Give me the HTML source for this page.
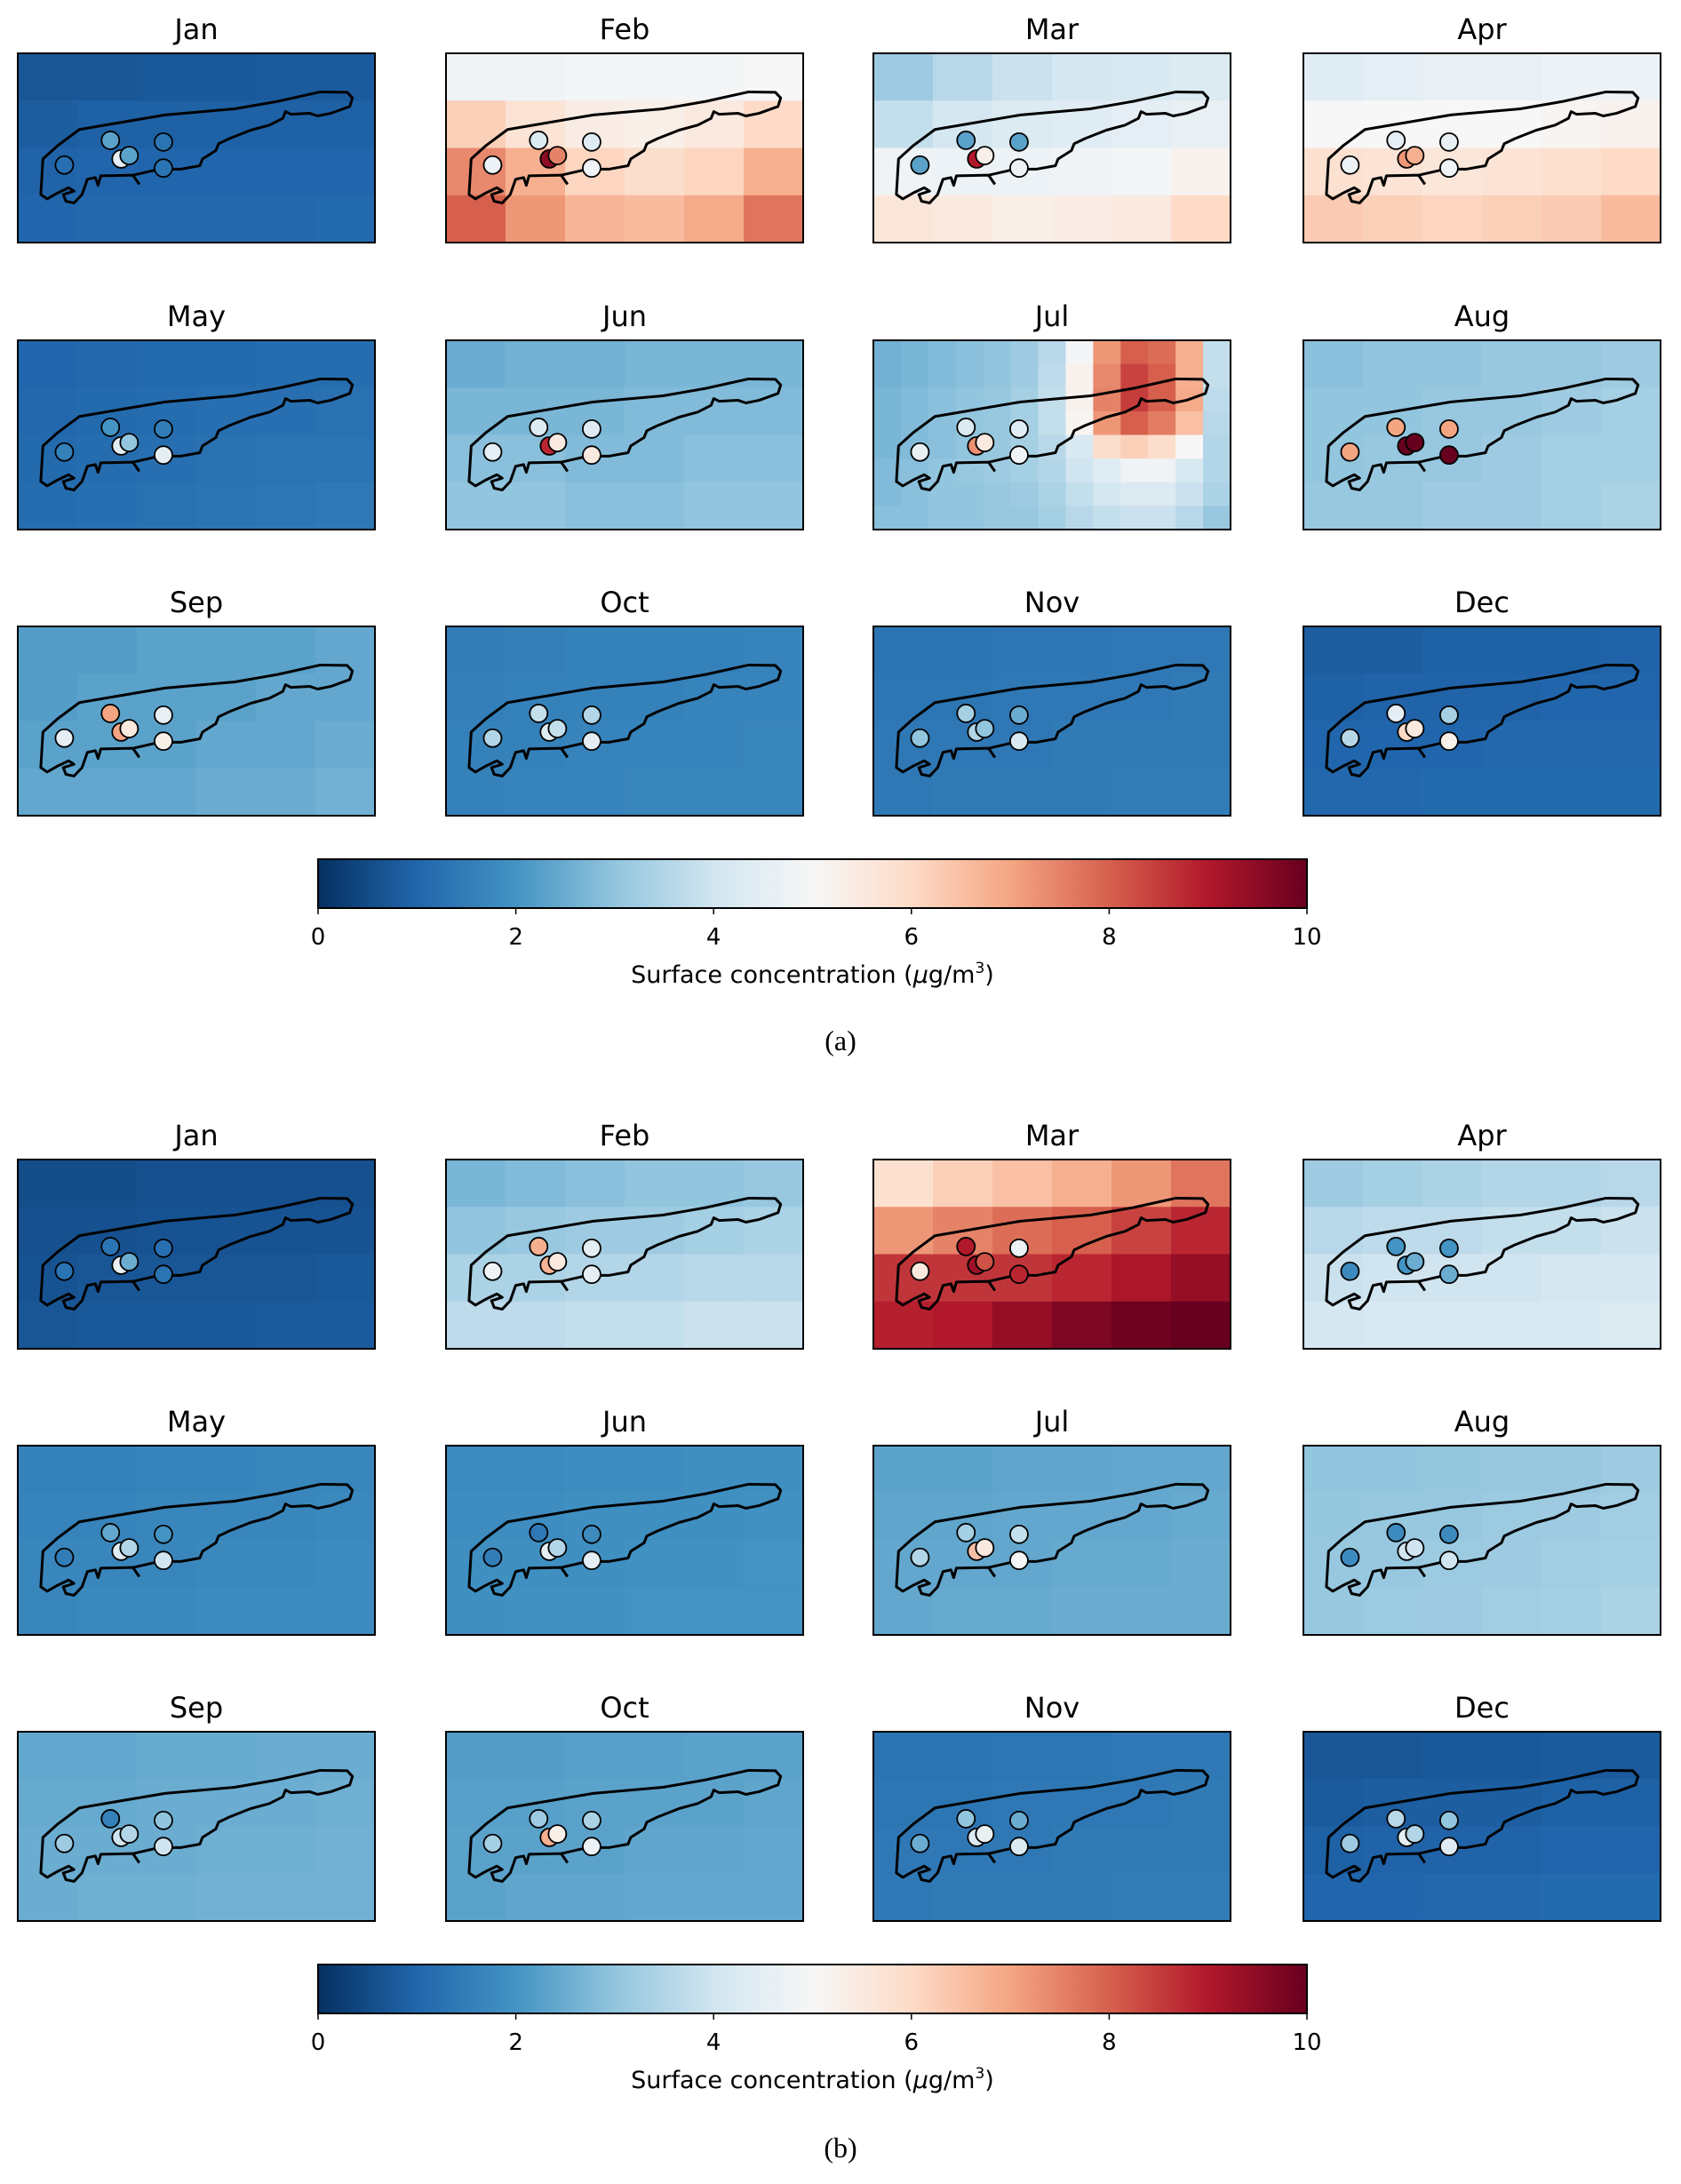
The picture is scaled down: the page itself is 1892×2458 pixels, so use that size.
<!DOCTYPE html>
<html><head><meta charset="utf-8">
<style>
html,body{margin:0;padding:0;background:#fff;}
svg text{font-family:"DejaVu Sans","Liberation Sans",sans-serif;fill:#000;}
</style></head>
<body>
<svg id="fig" xmlns="http://www.w3.org/2000/svg" width="1892" height="2453" viewBox="0 0 1892 2453"></svg>
<script>
const months = ["Jan","Feb","Mar","Apr","May","Jun","Jul","Aug","Sep","Oct","Nov","Dec"];
const colorbarTicks = [0,2,4,6,8,10];
const colorbarLabel = "Surface concentration (";
// background grids (rows top->bottom), µg/m3
const gridA = [
 [[0.7,0.7,0.75,0.75,0.8,0.8],[0.85,0.9,0.9,0.9,0.9,0.9],[0.95,1,1,1,1,1],[1,1.05,1.05,1.05,1.05,1.1]],
 [[4.8,4.8,4.9,4.9,4.9,5.0],[6.2,5.7,5.4,5.3,5.5,6.0],[7.4,6.8,6.1,5.9,6.1,6.8],[8.0,7.2,6.7,6.6,6.9,7.7]],
 [[3.2,3.6,3.9,4.1,4.2,4.3],[3.8,4.1,4.3,4.4,4.5,4.6],[4.8,4.7,4.7,4.8,4.9,5.2],[5.6,5.5,5.3,5.4,5.5,6.0]],
 [[4.4,4.5,4.6,4.6,4.7,4.7],[5.0,5.0,5.0,5.0,5.1,5.2],[5.8,5.7,5.6,5.7,5.8,6.0],[6.3,6.2,6.1,6.2,6.3,6.6]],
 [[1.0,1.05,1.1,1.1,1.15,1.15],[1.05,1.1,1.15,1.2,1.2,1.25],[1.1,1.15,1.2,1.25,1.3,1.3],[1.15,1.2,1.25,1.3,1.35,1.4]],
 [[2.5,2.6,2.6,2.7,2.7,2.7],[2.7,2.7,2.7,2.8,2.8,2.8],[2.9,2.9,2.8,2.8,2.9,2.9],[3.0,3.0,2.9,2.9,3.0,3.0]],
 [[2.6,2.7,2.8,2.9,3.0,3.2,3.6,4.9,7.2,8.0,7.8,6.8,3.8],
  [2.6,2.7,2.8,2.9,3.0,3.2,3.7,5.2,7.4,8.4,8.0,6.8,3.8],
  [2.7,2.8,2.9,3.0,3.1,3.3,3.8,5.2,7.5,8.5,8.0,6.9,3.7],
  [2.7,2.8,2.9,3.0,3.1,3.3,3.8,5.1,7.2,8.0,7.6,6.5,3.6],
  [2.7,2.8,2.9,3.0,3.1,3.3,3.6,4.2,5.9,6.2,5.9,5.0,3.5],
  [2.8,2.9,3.0,3.1,3.2,3.3,3.5,4.0,4.4,4.8,4.8,4.2,3.5],
  [2.8,2.9,3.0,3.0,3.1,3.2,3.4,3.8,4.1,4.3,4.3,3.9,3.4],
  [2.9,2.9,3.0,3.0,3.1,3.1,3.3,3.6,3.8,3.9,3.9,3.6,3.1]],
 [[2.9,3.0,3.0,3.1,3.1,3.2],[3.0,3.0,3.1,3.1,3.2,3.3],[3.0,3.1,3.1,3.2,3.3,3.3],[3.1,3.1,3.2,3.2,3.3,3.4]],
 [[2.2,2.2,2.3,2.3,2.3,2.4],[2.2,2.3,2.3,2.3,2.4,2.4],[2.3,2.3,2.3,2.4,2.4,2.5],[2.4,2.4,2.4,2.5,2.5,2.6]],
 [[1.5,1.55,1.6,1.6,1.6,1.65],[1.55,1.6,1.6,1.6,1.65,1.65],[1.6,1.6,1.65,1.65,1.65,1.7],[1.6,1.65,1.65,1.7,1.7,1.7]],
 [[1.3,1.3,1.35,1.35,1.4,1.4],[1.35,1.35,1.4,1.4,1.4,1.45],[1.4,1.4,1.4,1.45,1.45,1.45],[1.4,1.45,1.45,1.45,1.5,1.5]],
 [[0.85,0.85,0.9,0.9,0.9,0.95],[0.9,0.95,0.95,0.95,1.0,1.0],[1.0,1.0,1.0,1.05,1.05,1.05],[1.05,1.05,1.1,1.1,1.1,1.1]]
];
const gridB = [
 [[0.55,0.55,0.6,0.6,0.6,0.6],[0.6,0.6,0.65,0.65,0.65,0.65],[0.65,0.7,0.7,0.7,0.7,0.75],[0.7,0.75,0.75,0.75,0.8,0.8]],
 [[2.7,2.8,2.9,3.0,3.0,3.1],[3.0,3.1,3.2,3.2,3.3,3.4],[3.4,3.4,3.5,3.5,3.6,3.6],[3.7,3.7,3.8,3.8,3.9,3.9]],
 [[5.8,6.2,6.5,6.8,7.2,7.7],[7.2,7.5,7.8,8.0,8.4,8.8],[8.6,8.6,8.6,8.8,9.1,9.4],[8.9,9.0,9.4,9.7,9.9,10]],
 [[3.2,3.3,3.4,3.5,3.5,3.6],[3.6,3.7,3.7,3.8,3.8,3.9],[3.9,4.0,4.0,4.0,4.1,4.1],[4.1,4.2,4.2,4.2,4.2,4.3]],
 [[1.6,1.6,1.65,1.65,1.7,1.7],[1.65,1.65,1.7,1.7,1.7,1.75],[1.7,1.7,1.7,1.75,1.75,1.8],[1.7,1.75,1.75,1.8,1.8,1.8]],
 [[1.8,1.8,1.85,1.85,1.9,1.9],[1.85,1.85,1.9,1.9,1.9,1.95],[1.9,1.9,1.9,1.95,1.95,2.0],[1.9,1.95,1.95,2.0,2.0,2.0]],
 [[2.3,2.3,2.35,2.35,2.4,2.4],[2.35,2.35,2.4,2.4,2.4,2.45],[2.4,2.4,2.4,2.45,2.45,2.5],[2.4,2.45,2.45,2.5,2.5,2.5]],
 [[3.0,3.0,3.05,3.1,3.1,3.2],[3.05,3.1,3.1,3.15,3.2,3.25],[3.1,3.1,3.15,3.2,3.25,3.3],[3.1,3.15,3.2,3.25,3.3,3.4]],
 [[2.4,2.4,2.45,2.45,2.5,2.5],[2.45,2.45,2.5,2.5,2.5,2.55],[2.5,2.5,2.5,2.55,2.55,2.6],[2.5,2.55,2.55,2.6,2.6,2.6]],
 [[2.2,2.2,2.25,2.25,2.3,2.3],[2.25,2.25,2.3,2.3,2.3,2.35],[2.3,2.3,2.3,2.35,2.35,2.4],[2.3,2.35,2.35,2.4,2.4,2.4]],
 [[1.3,1.3,1.35,1.35,1.4,1.4],[1.35,1.35,1.4,1.4,1.4,1.45],[1.4,1.4,1.4,1.45,1.45,1.45],[1.4,1.45,1.45,1.45,1.5,1.5]],
 [[0.7,0.7,0.75,0.75,0.8,0.8],[0.8,0.85,0.85,0.85,0.9,0.9],[0.9,0.95,0.95,0.95,1.0,1.0],[1.0,1.0,1.05,1.05,1.1,1.1]]
];
// station values: [upper-left, upper-right, pair-left, pair-right, far-left, lower-right]
const sitesA = [
 [2.3,1.3,4.5,2.3,1.2,1.3],[4.3,4.4,9.5,7.5,4.7,4.8],[2.3,2.3,9.0,5.3,2.3,4.7],[4.5,4.6,7.2,6.8,4.7,4.8],
 [2.0,1.5,4.5,3.0,1.6,4.5],[4.3,4.4,8.8,5.5,4.5,5.5],[4.3,4.4,7.3,5.5,4.6,4.8],[7.0,7.0,10,10,7.0,10],
 [7.0,4.6,7.0,5.5,4.5,5.3],[3.8,3.5,4.4,3.8,3.5,4.5],[3.3,2.5,3.5,3.0,3.0,4.2],[4.5,3.3,6.0,5.5,3.6,5.3]
];
const sitesB = [
 [1.3,1.2,4.6,2.5,1.3,1.3],[6.8,4.5,6.7,5.5,4.8,4.5],[9.0,4.7,9.3,8.2,5.5,8.8],[2.0,2.0,2.0,2.5,1.8,2.5],
 [2.4,2.0,4.4,3.5,1.5,4.0],[1.4,1.8,4.5,3.5,1.5,4.5],[3.3,3.8,6.5,5.5,3.5,4.9],[1.8,1.8,4.0,4.0,1.8,4.0],
 [1.6,3.0,4.0,3.5,3.2,4.0],[3.2,3.4,6.8,5.3,3.3,4.7],[3.0,2.5,4.3,4.6,2.5,4.3],[3.6,3.0,4.5,3.5,3.2,4.4]
];

const NS="http://www.w3.org/2000/svg";
const svg=document.getElementById('fig');
const cmap=["#053061","#2166ac","#4393c3","#92c5de","#d1e5f0","#f7f7f7","#fddbc7","#f4a582","#d6604d","#b2182b","#67001f"];
function hex(h){return [1,3,5].map(i=>parseInt(h.substr(i,2),16));}
function color(v){
  let t=Math.max(0,Math.min(1,v/10))*10;let i=Math.min(9,Math.floor(t));let f=t-i;
  const a=hex(cmap[i]),b=hex(cmap[i+1]);
  return "rgb("+a.map((x,k)=>Math.round(x+(b[k]-x)*f)).join(",")+")";
}
function mk(tag,attrs,parent){const e=document.createElementNS(NS,tag);for(const k in attrs)e.setAttribute(k,attrs[k]);(parent||svg).appendChild(e);return e;}

const colX=[20,502,983,1467], PW=402, PH=213;
const rowYA=[60,383,705], rowYB=[1305,1627,1949];
const outline="M150,383 L310,340 L440,322 L520,300 L600,272 L650,273 L660,290 L655,315 L620,335 L595,343 L580,335 L545,338 L535,330 L530,350 L505,370 L470,385 L430,410 L410,425 L405,445 L380,470 L375,490 L340,500 L300,500 L250,518 L190,520 L185,548 L180,525 L165,530 L155,575 L140,600 L125,595 L120,575 L140,565 L130,555 L110,570 L90,588 L78,575 L82,470 L110,430 Z M250,518 L262,545";
const sitePos=[[208,415],[307,420],[228,470],[243,460],[122,488],[307,497]];
const drawOrder=[0,1,4,5,2,3];

function panel(px,py,title,grid,sites,tag){
  const g=mk('g',{});
  
  
  const t=mk('text',{x:px+PW/2,y:py-16,'text-anchor':'middle','font-size':32},g);
  t.textContent=title;
  
  
  const nr=grid.length,nc=grid[0].length;
  for(let r=0;r<nr;r++)for(let c=0;c<nc;c++){
    const x0=px+PW*c/nc,x1=px+PW*(c+1)/nc,y0=py+PH*r/nr,y1=py+PH*(r+1)/nr;
    const cell=mk('rect',{x:x0,y:y0,width:x1-x0+0.6,height:y1-y0+0.6,fill:color(grid[r][c])},g);
    
    
  }
  const inner=mk('svg',{x:px,y:py,width:PW,height:PH,viewBox:"35 158 667 559",preserveAspectRatio:"none"},g);
  const p=mk('path',{d:outline,fill:'none',stroke:'#000','stroke-width':3,'vector-effect':'non-scaling-stroke','stroke-linejoin':'round'},inner);
  
  
  for(const i of drawOrder){
    const e=mk('ellipse',{cx:sitePos[i][0],cy:sitePos[i][1],rx:16.6,ry:26.2,fill:color(sites[i]),stroke:'#000','stroke-width':1.8,'vector-effect':'non-scaling-stroke'},inner);
    
    
  }
  const b=mk('rect',{x:px,y:py,width:PW,height:PH,fill:'none',stroke:'#000','stroke-width':2},g);
  
  
}

function colorbar(y,labelY,tickY,capY,cap,tag){
  const x0=358,x1=1471,h=55;
  const defs=mk('defs',{});
  const lg=mk('linearGradient',{id:'grad'+tag,x1:0,y1:0,x2:1,y2:0},defs);
  cmap.forEach((c,i)=>mk('stop',{offset:i/10,'stop-color':c},lg));
  const r=mk('rect',{x:x0,y:y,width:x1-x0,height:h,fill:'url(#grad'+tag+')',stroke:'#000','stroke-width':2});
  
  
  colorbarTicks.forEach(v=>{
    const x=x0+(x1-x0)*v/10;
    mk('line',{x1:x,x2:x,y1:y+h,y2:y+h+7,stroke:'#000','stroke-width':1.5});
    const t=mk('text',{x:x,y:tickY,'text-anchor':'middle','font-size':26});
    t.textContent=String(v);
    
    
  });
  const l=mk('text',{x:(x0+x1)/2,y:labelY,'text-anchor':'middle','font-size':27});
  l.innerHTML=colorbarLabel+'<tspan font-style="italic">μ</tspan>g/m<tspan font-size="17" dy="-11">3</tspan><tspan dy="11">)</tspan>';
  
  
  const c=mk('text',{x:946,y:capY,'text-anchor':'middle','font-size':32,style:'font-family:"Liberation Serif",serif'});
  c.textContent=cap;
  
  
}

months.forEach((m,i)=>{
  const c=i%4,r=Math.floor(i/4);
  panel(colX[c],rowYA[r],m,gridA[i],sitesA[i],'a-'+m.toLowerCase());
  panel(colX[c],rowYB[r],m,gridB[i],sitesB[i],'b-'+m.toLowerCase());
});
colorbar(967,1106,1063,1182,'(a)','a');
colorbar(2211,2350,2307,2428,'(b)','b');
</script>
</body></html>
